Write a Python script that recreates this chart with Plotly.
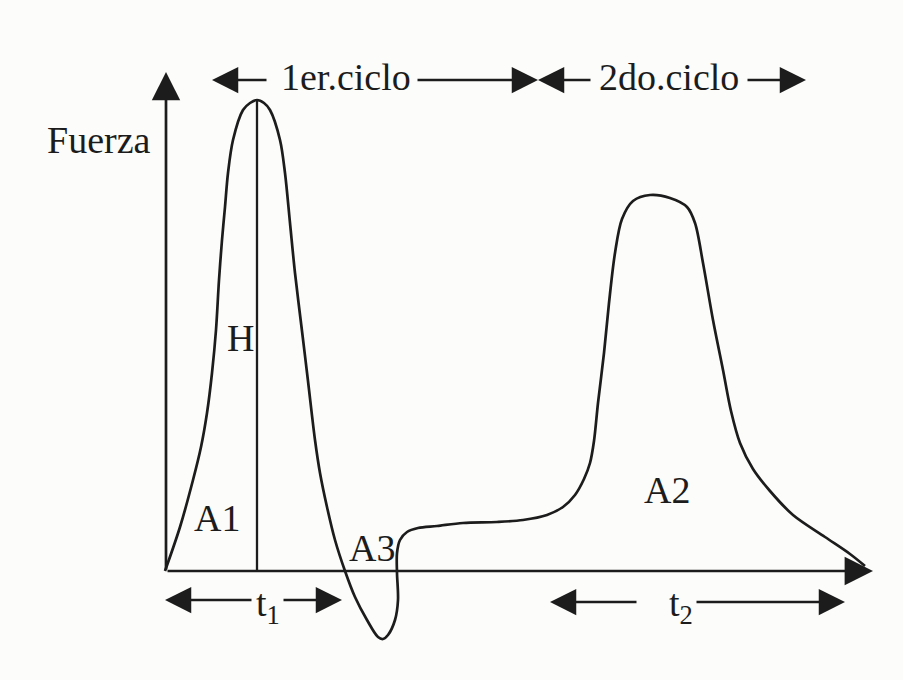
import plotly.graph_objects as go

# Texture profile: force against time over two compression cycles (arbitrary units)
tiempo = [0, 15, 28, 36, 42, 47, 51, 54, 57, 60, 63, 68, 78, 85, 92,
          99, 105, 115, 120, 125, 130, 137, 143, 150, 155, 162, 170, 180,
          190, 202, 213, 218, 223, 230, 233, 232, 232, 235, 242, 253,
          272, 298, 332, 358, 382, 398, 410, 419, 425, 429, 433, 439, 444,
          450, 457, 468, 485, 505, 522, 530, 538, 548, 558, 566, 575, 588,
          605, 628, 660, 685, 700]
fuerza = [0, 44, 91, 124, 158, 198, 241, 291, 331, 364, 398, 431, 461, 468, 471,
          468, 461, 431, 398, 348, 298, 240, 190, 131, 98, 64, 31, 0,
          -26, -49, -66, -68, -64, -49, -29, -2, 18, 31, 39, 43,
          45, 48, 49, 51, 56, 64, 76, 92, 108, 130, 168, 218, 268,
          318, 352, 370, 376, 373, 364, 348, 308, 251, 201, 160, 128, 102,
          80, 56, 34, 17, 5]

# Time spans marked under the axis, and the cycle limits marked above the plot
t1_span = [0, 177]
t2_span = [385, 680]
ciclo_limites = [47, 373, 641]

# Height H: the first-cycle maximum
n1 = 28
i_pico = max(range(n1), key=lambda i: fuerza[i])
pico_t, pico_f = tiempo[i_pico], fuerza[i_pico]

INK = "#1c1c1c"
SERIF = "Liberation Serif, Times New Roman, serif"

fig = go.Figure()

fig.add_trace(go.Scatter(
    x=tiempo, y=fuerza, mode="lines",
    line=dict(color=INK, width=2.7, shape="spline", smoothing=0.9),
    hoverinfo="skip",
))
fig.add_trace(go.Scatter(
    x=[pico_t, pico_t], y=[0, pico_f], mode="lines",
    line=dict(color=INK, width=2.3), hoverinfo="skip",
))


def flecha(x0, y0, x1, y1, width=2.5, size=2.1):
    """Arrow from (x0, y0) with its head at (x1, y1), in data units."""
    fig.add_annotation(
        x=x1, y=y1, ax=x0, ay=y0, xref="x", yref="y", axref="x", ayref="y",
        text="", showarrow=True, arrowhead=2, arrowsize=size,
        arrowwidth=width, arrowcolor=INK, standoff=0, startstandoff=0,
    )


# Axes with arrowheads
flecha(1, 0, 708, 0, width=2.7)
flecha(1, 0, 1, 499, width=2.7)

# t1 and t2 spans
y_t = -29
flecha(t1_span[0] + 88, y_t, t1_span[0], y_t)
flecha(t1_span[0] + 117, y_t, t1_span[1], y_t)
y_t2 = -31
flecha(t2_span[0] + 88, y_t2, t2_span[0], y_t2)
flecha(t2_span[0] + 145, y_t2, t2_span[1], y_t2)

# Cycle markers along the top
y_c = 491
flecha(ciclo_limites[0] + 56, y_c, ciclo_limites[0], y_c)
flecha(ciclo_limites[0] + 204, y_c, ciclo_limites[1], y_c)
flecha(ciclo_limites[1] + 54, y_c, ciclo_limites[1], y_c)
flecha(ciclo_limites[2] - 60, y_c, ciclo_limites[2], y_c)


def rotulo(texto, x, y, size=38):
    fig.add_annotation(
        x=x, y=y, xref="x", yref="y", text=texto, showarrow=False,
        font=dict(family=SERIF, size=size, color=INK),
        xanchor="center", yanchor="middle",
    )


rotulo("Fuerza", -66, 431)
rotulo("1er.ciclo", 181, 494)
rotulo("2do.ciclo", 504, 494)
rotulo("H", 75, 233)
rotulo("A1", 52, 53)
rotulo("A3", 207, 23)
rotulo("A2", 502, 81)
rotulo("t<sub>1</sub>", 103, -35)
rotulo("t<sub>2</sub>", 516, -35)

fig.update_layout(
    width=903, height=680,
    margin=dict(l=0, r=0, t=0, b=0),
    paper_bgcolor="#fcfcfa", plot_bgcolor="#fcfcfa",
    showlegend=False,
    xaxis=dict(range=[-165, 738], visible=False, fixedrange=True),
    yaxis=dict(range=[-109, 571], visible=False, fixedrange=True),
)

fig.write_html("out.html")
